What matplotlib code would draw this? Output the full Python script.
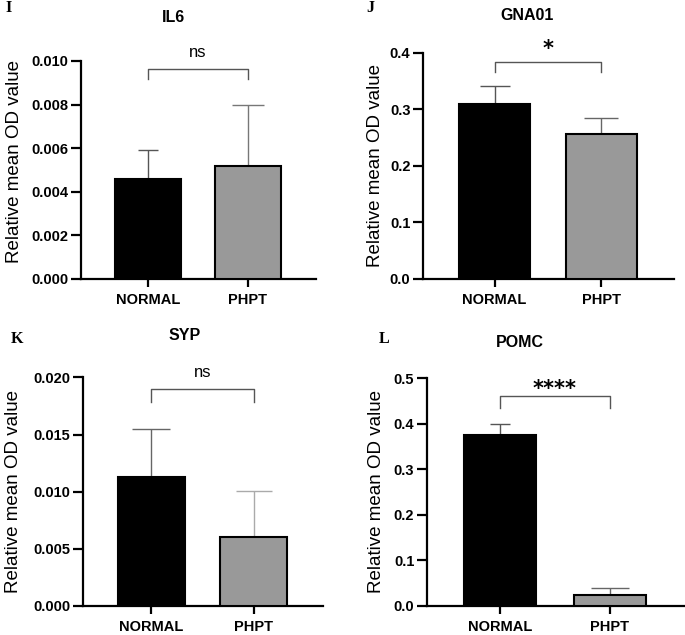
import matplotlib
matplotlib.use("Agg")
import numpy as np
import matplotlib.pyplot as plt

plt.rcParams['font.family'] = ['Liberation Sans', 'DejaVu Sans']

groups = ["NORMAL", "PHPT"]

# panel data: title, means, error (upper only), y max, y ticks, significance
titles = ["IL6", "GNA01", "SYP", "POMC"]
letters = ["I", "J", "K", "L"]
means = [[0.0046, 0.0052], [0.309, 0.257], [0.0113, 0.0060], [0.375, 0.023]]
sems = [[0.0013, 0.0028], [0.032, 0.028], [0.0042, 0.0041], [0.025, 0.017]]
ymax = [0.010, 0.4, 0.020, 0.5]
ysteps = [0.002, 0.1, 0.005, 0.1]
yfmt = ["{:.3f}", "{:.1f}", "{:.3f}", "{:.1f}"]
signif = ["ns", "*", "ns", "****"]
bracket_top = [0.00963, 0.384, 0.01895, 0.46]
bracket_low = [0.00917, 0.365, 0.01782, 0.434]
signif_y = [0.0104, 0.416, 0.02044, 0.489]

# layout (figure fractions)
rects = [[0.118, 0.561, 0.343, 0.343],
         [0.6175, 0.561, 0.3665, 0.356],
         [0.121, 0.0457, 0.3505, 0.360],
         [0.623, 0.0457, 0.376, 0.359]]
title_pos = [(174, 18), (527, 15), (185, 336), (520, 343)]
letter_pos = [(5, 0), (366, 0), (11, 331), (379, 331)]
label_x = [-0.245, -0.155, -0.252, -0.163]
label_y = [0.54, 0.5, 0.5, 0.5]

bar_colors = ["black", "#999999"]
err_colors = [["#555555", "#777777"], ["#555555", "#666666"],
              ["#666666", "#aaaaaa"], ["#555555", "#666666"]]
capsizes = [[7, 11.5], [11, 12.5], [14, 13], [7, 13.5]]

W, H = 685, 635
fig = plt.figure(figsize=(6.85, 6.35), dpi=100)

for i in range(4):
    ax = fig.add_axes(rects[i])
    x = np.arange(len(groups))
    ax.bar(x, means[i], width=0.66, color=bar_colors, edgecolor="black",
           linewidth=1.5, zorder=3)
    for j in range(2):
        ax.errorbar(x[j], means[i][j], yerr=[[0], [sems[i][j]]],
                    fmt="none", ecolor=err_colors[i][j], elinewidth=1.0,
                    capsize=capsizes[i][j], capthick=1.0, zorder=2)
    ax.set_xlim(-0.67, 1.68)
    ax.set_ylim(0, ymax[i])
    ticks = np.arange(0, ymax[i] + ysteps[i] / 2, ysteps[i])
    ax.set_yticks(ticks)
    ax.set_yticklabels([yfmt[i].format(t) for t in ticks], fontsize=10.5,
                       fontweight="bold")
    ax.set_xticks(x)
    ax.set_xticklabels(groups, fontsize=10.5, fontweight="bold")
    for s in ["top", "right"]:
        ax.spines[s].set_visible(False)
    for s in ["left", "bottom"]:
        ax.spines[s].set_linewidth(1.6)
    ax.tick_params(axis="y", width=1.6, length=7, pad=2)
    ax.tick_params(axis="x", width=1.6, length=6, pad=4)
    ax.set_ylabel("Relative mean OD value", fontsize=13.5)
    ax.yaxis.set_label_coords(label_x[i], label_y[i])

    # significance bracket
    ax.plot([0, 0, 1, 1],
            [bracket_low[i], bracket_top[i], bracket_top[i], bracket_low[i]],
            color="#555555", linewidth=1.0, clip_on=False)
    if signif[i] == "ns":
        ax.text(0.5, signif_y[i], signif[i], ha="center", va="center",
                fontsize=12)
    else:
        ax.annotate(signif[i], xy=(0.5, signif_y[i]), xytext=(0, -8.5),
                    textcoords="offset points", ha="center", va="baseline",
                    family="DejaVu Sans", fontweight="bold", fontsize=15,
                    annotation_clip=False)

    fig.text(title_pos[i][0] / W, 1 - title_pos[i][1] / H, titles[i],
             fontsize=11.5, fontweight="bold", ha="center", va="center")
    fig.text(letter_pos[i][0] / W, 1 - letter_pos[i][1] / H, letters[i],
             family="Liberation Serif", fontweight="bold", fontsize=11.5,
             ha="left", va="top")

fig.savefig("out.png", dpi=100)
